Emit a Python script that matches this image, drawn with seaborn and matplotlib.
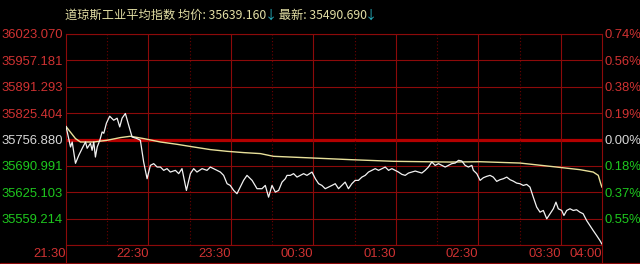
import numpy as np
import pandas as pd
import matplotlib
matplotlib.use("Agg")
import matplotlib.pyplot as plt
import seaborn as sns
from matplotlib.lines import Line2D

# ---------------- data ----------------
title_name = "道琼斯工业平均指数"
avg_label = "均价"
last_label = "最新"
avg_value = "35639.160"
last_value = "35490.690"

price_tick_labels = ["36023.070", "35957.181", "35891.293", "35825.404",
                     "35756.880", "35690.991", "35625.103", "35559.214"]
pct_tick_labels = ["0.74%", "0.56%", "0.38%", "0.19%",
                   "0.00%", "0.18%", "0.37%", "0.55%"]
time_labels = ["21:30", "22:30", "23:30", "00:30", "01:30", "02:30", "03:30", "04:00"]
time_label_minutes = [0, 60, 120, 180, 240, 300, 360, 390]
solid_minutes = [60, 120, 180, 240, 300, 360]
dotted_minutes = [30, 90, 150, 210, 270, 330]

# minutes since 21:30
price_minutes = [0, 3.3, 4.5, 6.9, 9.3, 11.8, 14.2, 15.4, 17.8, 19.0, 20.2, 21.4, 22.7, 24.6,
                 26.3, 27.5, 29.4, 31.8, 34.7, 37.2, 39.1, 40.8, 43.2, 45.6, 48.1, 51.7, 54.1,
                 56.5, 59.0, 61.4, 63.8, 66.3, 68.7, 71.1, 73.5, 75.9, 79.6, 82.0, 84.4, 87.6,
                 90.5, 92.9, 95.3, 99.0, 102.6, 105.0, 107.4, 109.9, 112.3, 114.7, 117.2, 119.5,
                 122.0, 124.4, 126.8, 129.2, 131.7, 135.4, 139.0, 142.6, 145.0, 147.4, 149.9,
                 152.3, 154.7, 157.2, 159.6, 160.8, 163.2, 165.6, 168.1, 170.5, 172.9, 175.3,
                 179.0, 181.4, 183.8, 186.2, 188.6, 191.0, 193.5, 195.9, 198.3, 200.7, 203.1,
                 205.5, 208.0, 210.4, 212.8, 215.3, 217.7, 220.1, 222.6, 225.0, 227.4, 229.9,
                 232.3, 234.7, 237.1, 239.5, 241.9, 244.4, 246.8, 249.2, 251.7, 254.1, 256.5,
                 258.9, 261.3, 263.7, 266.2, 268.6, 271.0, 273.5, 275.9, 278.3, 280.7, 283.2,
                 285.6, 288.0, 290.4, 292.8, 295.3, 296.4, 298.9, 301.3, 303.7, 306.1, 308.5,
                 310.9, 313.4, 315.8, 318.3, 320.7, 323.1, 325.4, 327.9, 330.3, 332.7, 335.2,
                 337.6, 340.0, 342.5, 344.9, 347.3, 349.8, 352.2, 354.6, 356.5, 358.2, 360.7,
                 362.3, 364.3, 366.7, 369.1, 371.5, 373.9, 376.3, 378.8, 381.2, 383.6, 386.1,
                 388.5, 390.0]
price_values = [35792.6, 35740.8, 35753.3, 35700.0, 35720.0, 35737.5, 35753.3, 35737.5, 35750.1,
                35732.5, 35753.3, 35715.7, 35740.8, 35757.6, 35778.4, 35775.1, 35800.2, 35817.7,
                35807.7, 35812.7, 35790.9, 35812.7, 35824.5, 35795.1, 35765.8, 35761.8, 35757.6,
                35703.2, 35661.6, 35694.9, 35699.2, 35690.7, 35690.7, 35682.4, 35686.7, 35678.2,
                35682.4, 35674.2, 35686.7, 35632.3, 35674.2, 35686.7, 35678.2, 35686.7, 35682.4,
                35690.7, 35686.7, 35682.4, 35678.2, 35669.9, 35649.1, 35644.8, 35632.3, 35624.1,
                35640.6, 35657.4, 35669.9, 35657.4, 35636.6, 35636.6, 35644.8, 35615.5, 35644.8,
                35628.1, 35632.3, 35653.1, 35661.6, 35669.9, 35669.9, 35674.2, 35665.6, 35669.9,
                35674.2, 35669.9, 35678.2, 35661.6, 35649.1, 35644.8, 35636.6, 35640.6, 35644.8,
                35649.1, 35636.6, 35644.8, 35653.1, 35636.6, 35649.1, 35657.4, 35657.4, 35665.6,
                35669.9, 35678.2, 35682.4, 35686.7, 35682.4, 35686.7, 35690.7, 35682.4, 35686.7,
                35682.4, 35678.2, 35672.4, 35669.9, 35675.7, 35678.2, 35680.7, 35678.2, 35675.7,
                35682.4, 35690.7, 35703.2, 35694.9, 35699.2, 35694.9, 35690.7, 35694.9, 35699.2,
                35700.7, 35707.5, 35705.7, 35694.9, 35690.7, 35694.9, 35682.4, 35674.2, 35657.4,
                35664.1, 35667.4, 35669.9, 35665.6, 35654.9, 35659.1, 35661.6, 35665.6, 35659.1,
                35655.6, 35650.6, 35649.1, 35644.8, 35647.3, 35640.6, 35615.5, 35590.5, 35578.0,
                35582.2, 35561.4, 35574.0, 35586.5, 35603.0, 35586.5, 35582.2, 35569.7, 35582.2,
                35586.5, 35582.2, 35584.0, 35578.0, 35574.0, 35557.2, 35544.6, 35532.1, 35519.6,
                35507.1, 35498.0]

avg_minutes = [0, 6.9, 10.5, 20.2, 29.9, 39.6, 46.9, 56.5, 68.7, 80.8, 92.9, 105.0, 117.2,
               129.2, 141.4, 151.0, 180.1, 206.8, 238.3, 279.4, 301.3, 330.3, 357.0, 373.9,
               383.6, 387.3, 389.1, 390.0]
avg_values = [35792.0, 35761.8, 35753.3, 35753.3, 35757.6, 35764.3, 35767.6, 35761.8, 35753.3,
              35747.5, 35740.8, 35734.3, 35730.0, 35726.8, 35724.3, 35717.5, 35713.2, 35709.2,
              35705.0, 35703.2, 35704.0, 35700.7, 35690.7, 35684.2, 35678.2, 35669.9, 35649.1,
              35640.0]

# ---------------- style ----------------
sns.set_theme(style="dark")
plt.rcParams['font.family'] = ['Liberation Sans', 'DejaVu Sans']

BG = "#000000"
GRID = "#8c0a0a"
CENTER = "#b40000"
DOT = "#6e0000"
RED_TXT = "#d03232"
GREEN_TXT = "#1ec81e"
GRAY_TXT = "#d8d8d8"
TITLE_COL = "#e2dea4"
ARROW_COL = "#28b8c8"

W, H = 640, 264
fig = plt.figure(figsize=(W / 100, H / 100), dpi=100, facecolor=BG)
left, right, top, bottom = 66, 602, 34, 245
ax = fig.add_axes([left / W, 1 - bottom / H, (right - left) / W, (bottom - top) / H])
ax.set_facecolor(BG)

y_top = 36023.070
step = 65.889
y_bottom = y_top - 8 * step
tick_pos = [y_top - i * step for i in range(len(price_tick_labels))]

ax.set_xlim(0, 390)
ax.set_ylim(y_bottom, y_top)

# grid
for i, yv in enumerate(tick_pos + [y_bottom]):
    if i == 4:
        ax.axhline(yv, color=CENTER, lw=2.3, zorder=1)
    else:
        ax.axhline(yv, color=GRID, lw=0.8, zorder=1)
for m in solid_minutes:
    ax.axvline(m, color=GRID, lw=0.8, zorder=1)
for m in dotted_minutes:
    ax.axvline(m, color=DOT, lw=0.8, ls=(0, (1, 2)), zorder=1)

# series
sns.lineplot(x=avg_minutes, y=avg_values, ax=ax, color="#e8e09a", lw=1.0,
             estimator=None, sort=False, zorder=3)
sns.lineplot(x=price_minutes, y=price_values, ax=ax, color="#f2f2f2", lw=0.9,
             estimator=None, sort=False, zorder=4)

for s in ax.spines.values():
    s.set_color(GRID)
    s.set_linewidth(0.8)

FS = 9.4
# left y labels
ax.set_yticks(tick_pos)
ax.set_yticklabels(price_tick_labels)
ax.tick_params(axis='y', length=0, pad=2.2, labelsize=FS)
def lab_color(i):
    return RED_TXT if i < 4 else (GRAY_TXT if i == 4 else GREEN_TXT)
for i, t in enumerate(ax.get_yticklabels()):
    t.set_color(lab_color(i))

# x labels
ax.set_xticks(time_label_minutes)
ax.set_xticklabels(time_labels, ha='right', color=RED_TXT)
ax.tick_params(axis='x', length=0, pad=2.2, labelsize=FS)

# right y labels
ax2 = ax.twinx()
ax2.set_ylim(y_bottom, y_top)
ax2.set_yticks(tick_pos)
ax2.set_yticklabels(pct_tick_labels)
ax2.tick_params(axis='y', length=0, pad=1.5, labelsize=FS)
for i, t in enumerate(ax2.get_yticklabels()):
    t.set_color(lab_color(i))
for s in ax2.spines.values():
    s.set_visible(False)
ax2.grid(False)
ax.grid(False)

# edge lines running to the bottom of the figure
fig.add_artist(Line2D([left / W, left / W], [0, 1 - bottom / H], color=GRID, lw=0.8))
fig.add_artist(Line2D([right / W, right / W], [0, 1 - bottom / H], color=GRID, lw=0.8))
fig.add_artist(Line2D([0, 1], [1.5 / H, 1.5 / H], color=GRID, lw=0.8))

# title pieces
fig.canvas.draw()
r = fig.canvas.get_renderer()
pieces = [(f"{title_name} {avg_label}: {avg_value}", TITLE_COL, 0),
          ("↓", ARROW_COL, -1.5),
          (f" {last_label}: {last_value}", TITLE_COL, -1.5),
          ("↓", ARROW_COL, -1.5)]
xpos = 65 / W
for txt, col, shift in pieces:
    xpos += shift / W
    t = fig.text(xpos, 1 - 15 / H, txt, color=col, fontsize=8.8,
                 family=['Noto Sans CJK SC', 'DejaVu Sans'], va='center', ha='left')
    bb = t.get_window_extent(renderer=r)
    xpos = bb.x1 / W

fig.savefig("out.png", dpi=100, facecolor=BG)
